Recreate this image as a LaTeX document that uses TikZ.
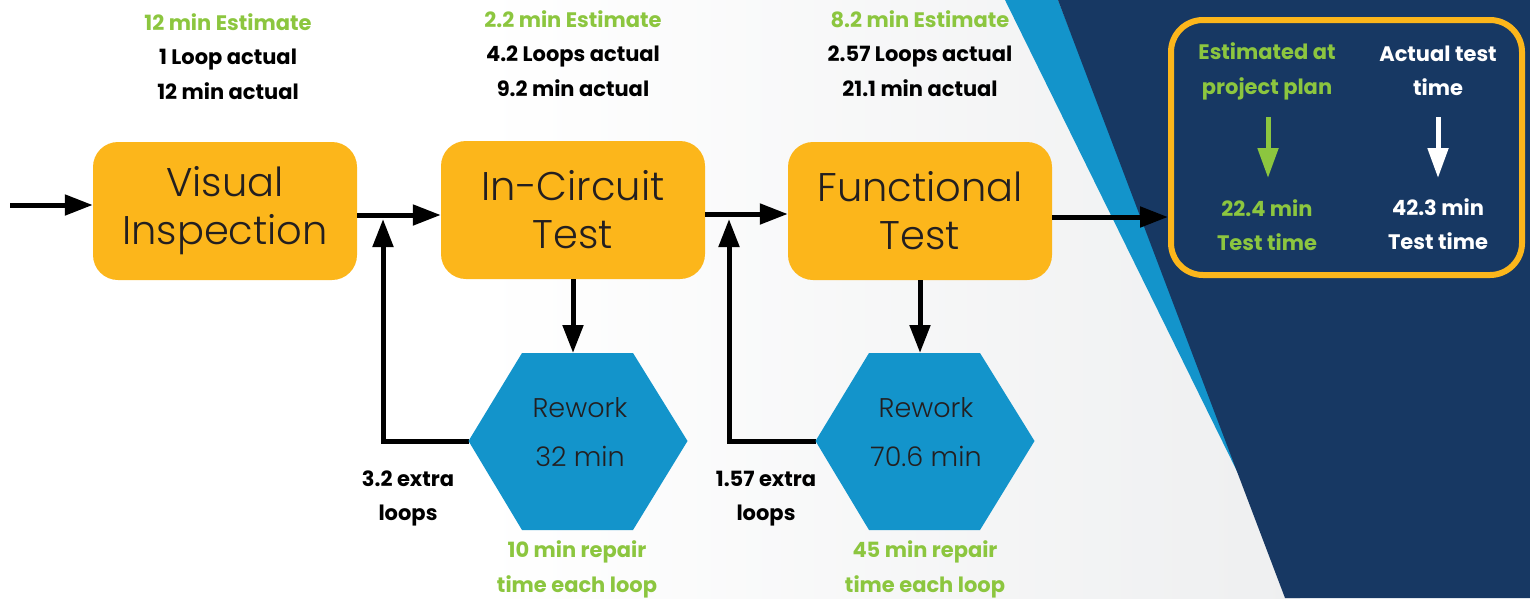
\documentclass[tikz,border=0pt]{standalone}
\usepackage{fontspec}
\setmainfont{Poppins}
\IfFontExistsTF{Poppins Light}{\newfontfamily\thinfont{Poppins Light}}{\newfontfamily\thinfont{Poppins}}
\usetikzlibrary{arrows.meta}
\definecolor{boxorange}{HTML}{FCB61B}
\definecolor{navy}{HTML}{173863}
\definecolor{hexblue}{HTML}{1394CB}
\definecolor{estgreen}{HTML}{8CC63F}
\definecolor{inkdark}{HTML}{231F20}
\definecolor{bggray}{HTML}{EEEFF0}

\begin{document}
\begin{tikzpicture}[x=1pt,y=-1pt,
    stage/.style={fill=boxorange,rounded corners=25pt,minimum width=264pt,minimum height=138pt,
      align=center,text=inkdark,font=\thinfont\fontsize{40}{48}\selectfont},
    hextext/.style={align=center,text=inkdark,font=\thinfont\fontsize{27}{49}\selectfont},
    note/.style={align=center,font=\bfseries\fontsize{21}{34.5}\selectfont},
    flow/.style={line width=5pt,-{Triangle[length=28pt,width=20pt]}},
    resarrow/.style={line width=5pt,-{Triangle[length=30pt,width=20pt]}},
    hexa/.style={fill=hexblue}]
            \useasboundingbox (0,0) rectangle (1530,598);
            \shade[left color=white,right color=bggray] (480,0) rectangle (1300,598);
            \fill[hexblue] (1005,0) -- (1058,0) -- (1262,522) -- cycle;
            \fill[navy] (1058,0) -- (1530,0) -- (1530,598) -- (1285,598) -- cycle;

            \node[stage] (vi) at (225,211) {Visual\\Inspection};
            \node[stage] (ict) at (573,210) {In-Circuit\\Test};
            \node[stage] (ft) at (920,211) {Functional\\Test};
            \node[draw=boxorange,line width=6pt,fill=navy,rounded corners=32pt,
              minimum width=351pt,minimum height=255pt] (res) at (1346.5,147.5) {};

            \node[note] (n1) at (228,56.5) {\textcolor{estgreen}{12 min Estimate}\\1 Loop actual\\12 min actual};
            \node[note] (n2) at (573,53.5) {\textcolor{estgreen}{2.2 min Estimate}\\4.2 Loops actual\\9.2 min actual};
            \node[note] (n3) at (920,53.5) {\textcolor{estgreen}{8.2 min Estimate}\\2.57 Loops actual\\21.1 min actual};

            \coordinate (start) at (10,205);
            \draw[flow] (start) -- (start -| vi.west);
            \draw[flow] ([yshift=-4pt]vi.east) -- ([yshift=-4pt]vi.east -| ict.west);
            \draw[flow] ([yshift=-4pt]ict.east) -- ([yshift=-4pt]ict.east -| ft.west);
            \draw[flow] ([yshift=-6pt]ft.east) -- ([yshift=-6pt]ft.east -| res.west);

            \coordinate (rw1t) at (578,353);
            \coordinate (rw1l) at (469,441);
            \coordinate (j1) at (383,219);
            \coordinate (rw2t) at (925,353);
            \coordinate (rw2l) at (816,441);
            \coordinate (j2) at (729,219);
            \draw[flow] (ict.south) -- (ict.south |- rw1t);
            \draw[flow] (ft.south) -- (ft.south |- rw2t);
            \draw[flow] (rw1l) -| (j1);
            \draw[flow] (rw2l) -| (j2);

            \fill[hexa] (578,441) +(-109.5,0) -- +(-56,-88) -- +(55,-88) -- +(109.5,0) -- +(55,89) -- +(-56,89) -- cycle;
            \fill[hexa] (925,441) +(-109.5,0) -- +(-56,-88) -- +(55,-88) -- +(109.5,0) -- +(55,89) -- +(-56,89) -- cycle;
            \node[hextext] (rw1) at (580,432.5) {Rework\\32 min};
            \node[hextext] (rw2) at (926,432.5) {Rework\\70.6 min};

            \node[note] (x1) at (408,498.5) {3.2 extra\\loops};
            \node[note] (x2) at (766,498.5) {1.57 extra\\loops};
            \node[note,text=estgreen] (r1) at (577,569.5) {10 min repair\\time each loop};
            \node[note,text=estgreen] (r2) at (925,569.5) {45 min repair\\time each loop};

            \node[note,text=estgreen] (plan) at (1267,71.5) {Estimated at\\project plan};
            \node[note,text=estgreen] (plantime) at (1267,225) {22.4 min\\Test time};
            \node[note,text=white] (act) at (1438,71) {Actual test\\time};
            \node[note,text=white] (acttime) at (1438,224) {42.3 min\\Test time};
            \coordinate (g1) at (1268,117);
            \coordinate (g2) at (1268,178);
            \coordinate (w1) at (1438,117);
            \coordinate (w2) at (1438,178);
            \draw[resarrow,estgreen] (g1) -- (g2);
            \draw[resarrow,white] (w1) -- (w2);
\end{tikzpicture}
\end{document}
